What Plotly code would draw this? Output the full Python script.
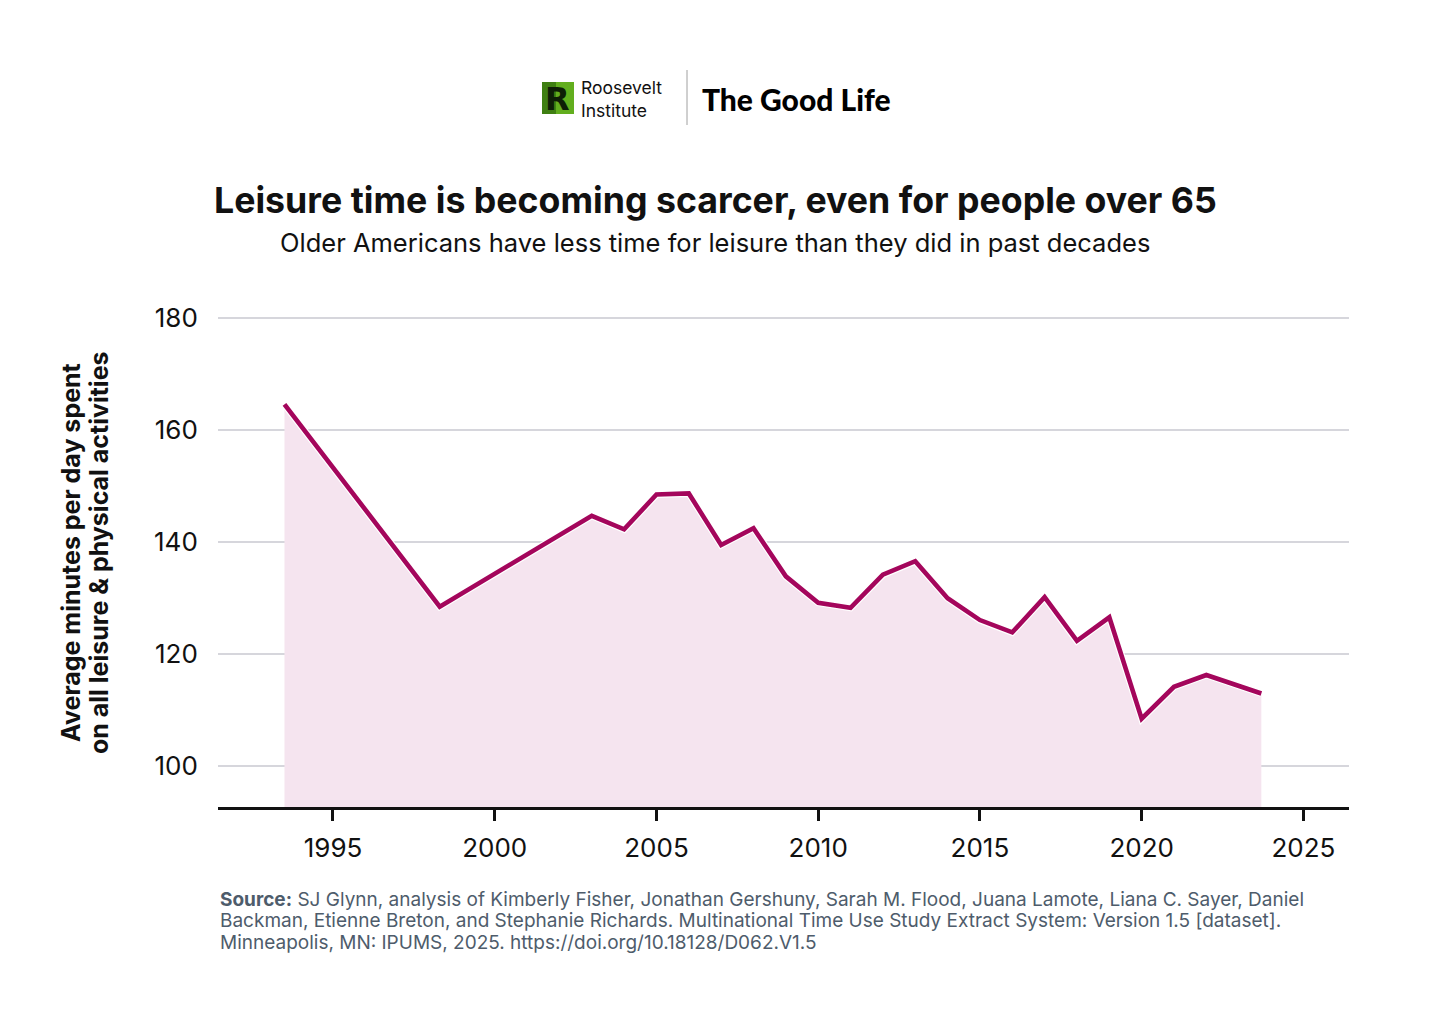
import plotly.graph_objects as go

# ---- data ----
years = [1993.5, 1998.3, 2003, 2004, 2005, 2006, 2007, 2008, 2009, 2010, 2011,
         2012, 2013, 2014, 2015, 2016, 2017, 2018, 2019, 2020, 2021, 2022, 2023.7]
minutes = [164.6, 128.5, 144.7, 142.3, 148.5, 148.7, 139.5, 142.5, 133.9, 129.2, 128.3,
           134.2, 136.6, 130.0, 126.1, 123.9, 130.2, 122.4, 126.6, 108.5, 114.2, 116.3, 113.0]
x_ticks = [1995, 2000, 2005, 2010, 2015, 2020, 2025]
y_ticks = [100, 120, 140, 160, 180]

TITLE = "Leisure time is becoming scarcer, even for people over 65"
SUBTITLE = "Older Americans have less time for leisure than they did in past decades"
YTITLE_LINES = ["Average minutes per day spent", "on all leisure &amp; physical activities"]
SOURCE_LINES = [
    "<b>Source:</b> SJ Glynn, analysis of Kimberly Fisher, Jonathan Gershuny, Sarah M. Flood, Juana Lamote, Liana C. Sayer, Daniel",
    "Backman, Etienne Breton, and Stephanie Richards. Multinational Time Use Study Extract System: Version 1.5 [dataset].",
    "Minneapolis, MN: IPUMS, 2025. https://doi.org/10.18128/D062.V1.5",
]

W, H = 1430, 1023
L, R, T, B = 218, 1349, 300, 807
FONT = "Inter, Lato, sans-serif"
LINE = "#A4065C"
FILL = "#F5E4EF"


def px(x):
    return (x - L) / (R - L)


def py(y):
    return (B - y) / (B - T)


fig = go.Figure()
fig.add_trace(go.Scatter(x=years, y=minutes, mode="lines", fill="tozeroy",
                         fillcolor=FILL, line=dict(width=0, color=FILL),
                         hoverinfo="skip", showlegend=False))
fig.add_trace(go.Scatter(x=years, y=minutes, mode="lines",
                         line=dict(width=7, color="white"),
                         hoverinfo="skip", showlegend=False))
fig.add_trace(go.Scatter(x=years, y=minutes, mode="lines",
                         line=dict(width=4.6, color=LINE),
                         showlegend=False))

fig.update_layout(
    width=W, height=H, autosize=False,
    margin=dict(l=L, r=W - R, t=T, b=H - B, pad=0),
    paper_bgcolor="white", plot_bgcolor="white",
    font=dict(family=FONT, color="#111111"),
    xaxis=dict(range=[1991.445, 2026.41], tickmode="array", tickvals=x_ticks,
               showgrid=False, zeroline=False, showline=True, linecolor="#111111",
               linewidth=2.5, ticks="outside", ticklen=11, tickwidth=2.5,
               tickcolor="#111111", ticklabelstandoff=5,
               tickfont=dict(size=26, family=FONT, color="#111111")),
    yaxis=dict(range=[92.74, 183.22], tickmode="array", tickvals=y_ticks,
               showgrid=True, gridcolor="#D6D6DC", gridwidth=1.5, zeroline=False,
               showline=False, ticks="outside", ticklen=14, tickcolor="rgba(0,0,0,0)",
               tickfont=dict(size=26, family=FONT, color="#111111")),
)

ann = []
ann.append(dict(text="<b>" + TITLE + "</b>", x=px(715), y=py(200), xref="paper", yref="paper",
                xanchor="center", yanchor="middle", showarrow=False,
                font=dict(size=35.7, family=FONT, color="#111111")))
ann.append(dict(text=SUBTITLE, x=px(715), y=py(242), xref="paper", yref="paper",
                xanchor="center", yanchor="middle", showarrow=False,
                font=dict(size=25.5, family=FONT, color="#111111")))
for i, line in enumerate(YTITLE_LINES):
    ann.append(dict(text="<b>" + line + "</b>", x=px(71 + 28 * i), y=py(553), xref="paper", yref="paper",
                    xanchor="center", yanchor="middle", showarrow=False, textangle=-90,
                    font=dict(size=25, family=FONT, color="#111111")))
for i, line in enumerate(SOURCE_LINES):
    ann.append(dict(text=line, x=px(218), y=py(899 + 21.5 * i), xref="paper", yref="paper",
                    xanchor="left", yanchor="middle", showarrow=False,
                    font=dict(size=19, family=FONT, color="#4E5C6B")))

# logo
ann.append(dict(text="Roosevelt<br>Institute", x=px(579), y=py(99), xref="paper", yref="paper",
                xanchor="left", yanchor="middle", align="left", showarrow=False,
                font=dict(size=17.5, family=FONT, color="#111111")))
ann.append(dict(text="The Good Life", x=px(796), y=py(99), xref="paper", yref="paper",
                xanchor="center", yanchor="middle", showarrow=False,
                font=dict(size=30, family="Lato, sans-serif", weight=900, color="#000000")))
ann.append(dict(text="<b>R</b>", x=px(557), y=py(99), xref="paper", yref="paper",
                xanchor="center", yanchor="middle", showarrow=False,
                font=dict(size=32, family="'DejaVu Sans', sans-serif", color="#0E1E06")))
fig.update_layout(annotations=ann)

shapes = [
    dict(type="rect", xref="paper", yref="paper", x0=px(542), x1=px(574), y0=py(114), y1=py(82),
         fillcolor="#62AE1E", line=dict(width=0), layer="below"),
    dict(type="rect", xref="paper", yref="paper", x0=px(542), x1=px(556), y0=py(114), y1=py(82),
         fillcolor="#3F7F12", line=dict(width=0), layer="below"),
    dict(type="line", xref="paper", yref="paper", x0=px(687), x1=px(687), y0=py(70), y1=py(125),
         line=dict(width=1, color="#A0A0A0")),
]
fig.update_layout(shapes=shapes)

fig.write_html("out.html")
